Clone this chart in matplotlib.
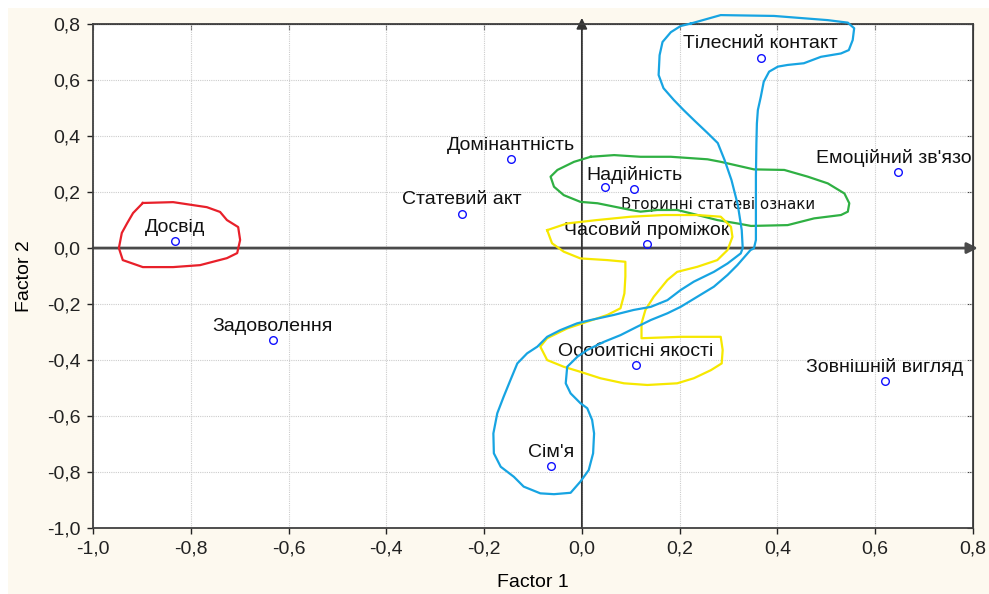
import matplotlib
matplotlib.use("Agg")
import matplotlib.pyplot as plt
from matplotlib.patches import Rectangle
from matplotlib.transforms import offset_copy

# Factor loadings
labels = ["Досвід", "Статевий акт", "Домінантність", "Вторинні статеві ознаки",
          "Надійність", "Часовий проміжок", "Тілесний контакт", "Емоційний зв'язок",
          "Задоволення", "Особитісні якості", "Зовнішній вигляд", "Сім'я"]
factor1 = [-0.832, -0.245, -0.145, 0.048, 0.107, 0.133, 0.366, 0.647,
           -0.632, 0.111, 0.620, -0.063]
factor2 = [0.025, 0.123, 0.318, 0.219, 0.211, 0.016, 0.680, 0.271,
           -0.329, -0.418, -0.474, -0.779]

ticks = [-1.0, -0.8, -0.6, -0.4, -0.2, 0.0, 0.2, 0.4, 0.6, 0.8]

# hand-drawn cluster outlines (factor 1, factor 2)
red_x = [-0.898, -0.836, -0.767, -0.740, -0.726, -0.703, -0.699, -0.705, -0.726,
         -0.781, -0.836, -0.898, -0.939, -0.947, -0.941, -0.930, -0.918, -0.898]
red_y = [0.161, 0.164, 0.146, 0.129, 0.100, 0.075, 0.029, -0.018, -0.036,
         -0.061, -0.068, -0.068, -0.043, 0.000, 0.054, 0.089, 0.125, 0.161]

blue_x = [0.223, 0.284, 0.393, 0.503, 0.544, 0.557, 0.554, 0.546, 0.530, 0.489,
          0.454, 0.421, 0.401, 0.383, 0.372, 0.366, 0.360, 0.358, 0.357, 0.356,
          0.356, 0.356, 0.352, 0.345, 0.318, 0.298, 0.270, 0.236, 0.202, 0.175,
          0.141, 0.113, 0.079, 0.045, 0.011, -0.009, -0.030, -0.033, -0.023, -0.003,
          0.011, 0.021, 0.025, 0.023, 0.014, -0.003, -0.023, -0.057, -0.085, -0.119,
          -0.139, -0.166, -0.180, -0.181, -0.173, -0.160, -0.146, -0.132, -0.112, -0.091,
          -0.071, -0.044, -0.010, 0.018, 0.065, 0.106, 0.141, 0.175, 0.202, 0.229,
          0.270, 0.298, 0.325, 0.329, 0.327, 0.319, 0.306, 0.292, 0.278, 0.257,
          0.231, 0.208, 0.188, 0.167, 0.157, 0.159, 0.165, 0.182, 0.202, 0.223]
blue_y = [0.802, 0.832, 0.829, 0.814, 0.805, 0.785, 0.743, 0.707, 0.695, 0.683,
          0.660, 0.654, 0.648, 0.630, 0.594, 0.540, 0.493, 0.445, 0.374, 0.255,
          0.136, 0.029, -0.001, -0.007, -0.061, -0.096, -0.138, -0.174, -0.210, -0.233,
          -0.257, -0.281, -0.311, -0.335, -0.364, -0.388, -0.424, -0.483, -0.519, -0.554,
          -0.572, -0.614, -0.662, -0.733, -0.793, -0.834, -0.874, -0.879, -0.876, -0.852,
          -0.817, -0.781, -0.733, -0.662, -0.590, -0.531, -0.471, -0.412, -0.376, -0.352,
          -0.317, -0.293, -0.269, -0.257, -0.239, -0.221, -0.210, -0.186, -0.150, -0.120,
          -0.085, -0.055, -0.019, 0.000, 0.064, 0.154, 0.243, 0.314, 0.375, 0.411,
          0.454, 0.493, 0.529, 0.571, 0.618, 0.689, 0.736, 0.771, 0.793, 0.802]

yellow_x = [-0.071, -0.030, 0.031, 0.100, 0.168, 0.236, 0.284, 0.305, 0.308, 0.298,
            0.277, 0.236, 0.195, 0.175, 0.147, 0.130, 0.122, 0.122, 0.202, 0.284,
            0.288, 0.286, 0.264, 0.229, 0.195, 0.134, 0.086, 0.038, -0.003, -0.037,
            -0.071, -0.085, -0.071, -0.030, 0.011, 0.052, 0.079, 0.087, 0.089, 0.089,
            0.052, -0.003, -0.037, -0.061, -0.071]
yellow_y = [0.064, 0.088, 0.100, 0.112, 0.118, 0.118, 0.112, 0.076, 0.040, -0.007,
            -0.043, -0.067, -0.085, -0.114, -0.174, -0.221, -0.269, -0.322, -0.317, -0.317,
            -0.364, -0.412, -0.436, -0.465, -0.483, -0.489, -0.483, -0.465, -0.442, -0.424,
            -0.400, -0.352, -0.322, -0.287, -0.263, -0.239, -0.215, -0.162, -0.102, -0.049,
            -0.043, -0.037, -0.013, 0.017, 0.064]

green_x = [0.018, 0.066, 0.120, 0.182, 0.257, 0.284, 0.352, 0.414, 0.462, 0.503,
           0.537, 0.547, 0.544, 0.530, 0.475, 0.421, 0.346, 0.318, 0.277, 0.223,
           0.195, 0.154, 0.120, 0.100, 0.066, 0.032, -0.003, -0.037, -0.057, -0.064,
           -0.050, -0.016, 0.018]
green_y = [0.326, 0.332, 0.326, 0.326, 0.317, 0.308, 0.281, 0.279, 0.255, 0.231,
           0.195, 0.160, 0.130, 0.118, 0.106, 0.082, 0.079, 0.088, 0.100, 0.124,
           0.136, 0.136, 0.130, 0.136, 0.148, 0.160, 0.165, 0.189, 0.219, 0.255,
           0.279, 0.308, 0.326]

plt.rcParams['font.family'] = ['Liberation Sans', 'DejaVu Sans']

fig = plt.figure(figsize=(9.89, 5.94), dpi=100, facecolor='white')
# cream panel behind the chart
fig.patches.append(Rectangle((8 / 989, 0), 1, 1 - 8 / 594, transform=fig.transFigure,
                             facecolor='#fdf9ef', edgecolor='none', zorder=-1))
ax = fig.add_axes([0.094, 0.111, 0.8898, 0.8485])
ax.set_facecolor('white')

ax.set_xlim(-1.0, 0.8)
ax.set_ylim(-1.0, 0.8)
ax.set_xticks(ticks)
ax.set_yticks(ticks)
fmt = lambda v: f"{v:.1f}".replace('.', ',')
ax.set_xticklabels([fmt(t) for t in ticks])
ax.set_yticklabels([fmt(t) for t in ticks])
ax.tick_params(direction='out', length=4, width=1, labelsize=14, pad=5, colors='#222')
ax.grid(True, linestyle=(0, (1, 1)), color='#cccccc', linewidth=0.8)
ax.set_axisbelow(True)
for s in ax.spines.values():
    s.set_color('#404040')
    s.set_linewidth(1.3)

# inward ticks on top / right
top = ax.secondary_xaxis('top')
top.set_xticks(ticks)
top.tick_params(direction='in', length=4, labeltop=False, colors='#404040')
right = ax.secondary_yaxis('right')
right.set_yticks(ticks)
right.tick_params(direction='in', length=4, labelright=False, colors='#404040')

ax.set_xlabel('Factor 1', fontsize=14, labelpad=12)
ax.set_ylabel('Factor 2', fontsize=14, labelpad=10)

# coordinate axes with arrows
ax.annotate('', xy=(0.81, 0), xytext=(-1.0, 0), annotation_clip=False,
            arrowprops=dict(arrowstyle='-|>', color='#4a4a4a', lw=2,
                            mutation_scale=16, shrinkA=0, shrinkB=0), zorder=2)
ax.annotate('', xy=(0, 0.822), xytext=(0, -1.0), annotation_clip=False,
            arrowprops=dict(arrowstyle='-|>', color='#333333', lw=1.3,
                            mutation_scale=16, shrinkA=0, shrinkB=0), zorder=2)

# points
ax.plot(factor1, factor2, linestyle='none', marker='o', markersize=5.5,
        markerfacecolor='none', markeredgecolor='#1010ff', markeredgewidth=1, zorder=3)

above = offset_copy(ax.transData, fig=fig, x=0, y=10, units='points')
moved = {"Вторинні статеві ознаки": (81, -12.5)}
for name, fx, fy in zip(labels, factor1, factor2):
    if name in moved:
        dx, dy = moved[name]
        tr = offset_copy(ax.transData, fig=fig, x=dx, y=dy, units='points')
        ax.text(fx, fy, name, transform=tr, ha='center', va='center', fontsize=10.8,
                family='DejaVu Sans', color='#111', clip_on=True, zorder=4)
    else:
        ax.text(fx, fy, name, transform=above, ha='center', va='center', fontsize=14,
                color='#111', clip_on=True, zorder=4)

# cluster outlines (drawn freely, may go past the frame)
outline = dict(lw=1.6, zorder=5, clip_on=False, solid_joinstyle='round')
ax.plot(red_x, red_y, color='#e8202a', **outline)
ax.plot(green_x, green_y, color='#2fb043', **outline)
ax.plot(yellow_x, yellow_y, color='#f6e800', **outline)
ax.plot(blue_x, blue_y, color='#17a4e2', **outline)

fig.savefig('out.png', dpi=100, facecolor=fig.get_facecolor())
